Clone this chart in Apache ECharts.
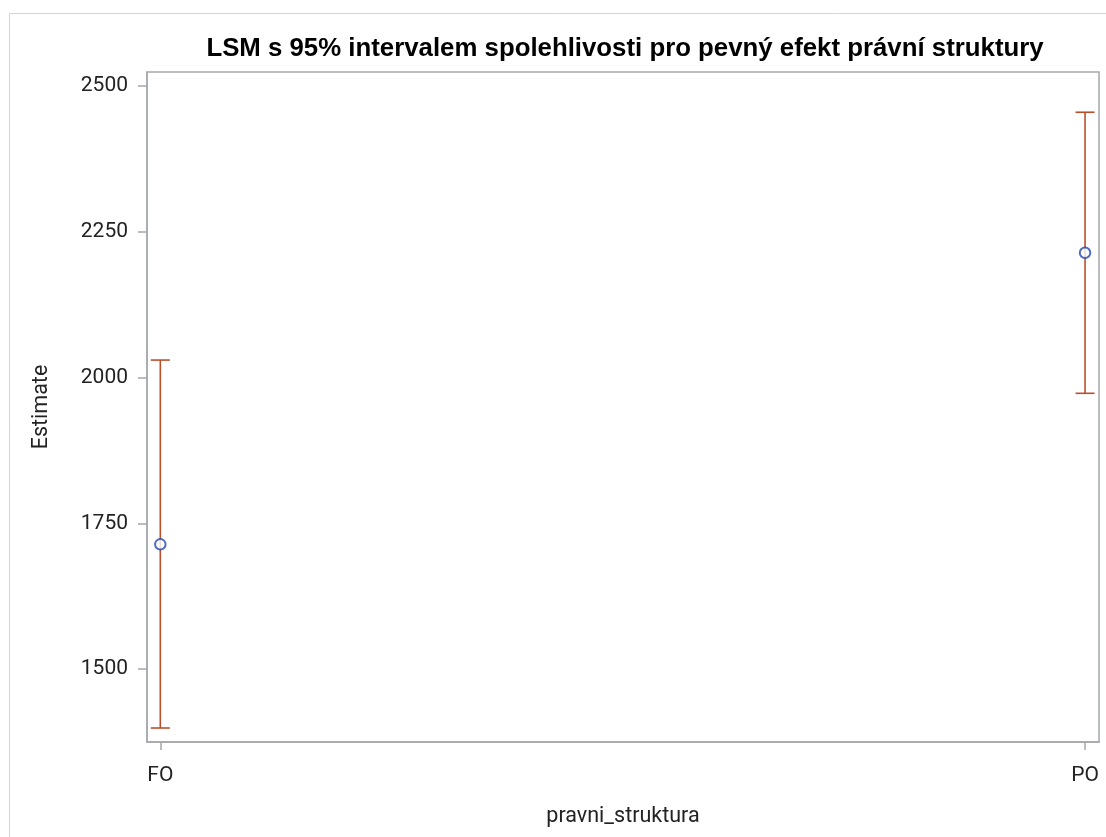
<!DOCTYPE html>
<html><head><meta charset="utf-8">
<script src="https://cdn.jsdelivr.net/npm/echarts@6/dist/echarts.min.js"></script>
<style>html,body{margin:0;padding:0;background:#fff}#c{width:1106px;height:837px}</style>
</head><body><div id="c"></div>
<script>
const categories = ['FO', 'PO'];
const estimates = [1714, 2214];
const lowerCL = [1399, 1973];
const upperCL = [2030, 2455];
const yTicks = [1500, 1750, 2000, 2250, 2500];

const chart = echarts.init(document.getElementById('c'));
const axisGray = '#a4a8ac';
const errColor = '#b9502b';
const ptColor = '#2447b0';
const lblFont = 'Roboto, "Liberation Sans", sans-serif';

chart.setOption({
  animation: false,
  backgroundColor: '#fff',
  title: {
    text: 'LSM s 95% intervalem spolehlivosti pro pevný efekt právní struktury',
    left: 620, top: 31, textAlign: 'center',
    textStyle: { fontFamily: '"Liberation Sans", Arial, sans-serif', fontWeight: 'bold', fontSize: 25.8, color: '#000' }
  },
  graphic: [{
    type: 'rect', shape: { x: 9.5, y: 13.5, width: 1110, height: 840 },
    style: { fill: 'none', stroke: '#d4d4d4', lineWidth: 1 }, silent: true, z: -10
  }],
  grid: { left: 147, top: 72, right: 7, bottom: 95, containLabel: false,
          show: true, borderColor: axisGray, borderWidth: 1.5 },
  xAxis: {
    type: 'value', min: -0.0144, max: 1.0151,
    name: 'pravni_struktura', nameLocation: 'middle', nameGap: 64,
    nameTextStyle: { fontFamily: lblFont, fontSize: 21.5, color: '#222' },
    axisLine: { show: true, onZero: false, lineStyle: { color: axisGray, width: 1.5 } },
    axisTick: { show: true, customValues: [0, 1], length: 8, lineStyle: { color: axisGray, width: 1.5 } },
    axisLabel: { customValues: [0, 1], formatter: v => categories[Math.round(v)] ?? '',
                 margin: 23, fontFamily: lblFont, fontSize: 21, color: '#222' },
    splitLine: { show: false }
  },
  yAxis: {
    type: 'value', min: 1375, max: 2524,
    name: 'Estimate', nameLocation: 'middle', nameGap: 94, nameRotate: 90,
    nameTextStyle: { fontFamily: lblFont, fontSize: 21.5, color: '#222' },
    axisLine: { show: true, onZero: false, lineStyle: { color: axisGray, width: 1.5 } },
    axisTick: { show: true, customValues: yTicks, length: 9, lineStyle: { color: axisGray, width: 1.5 } },
    axisLabel: { customValues: yTicks, formatter: v => String(v), margin: 19,
                 fontFamily: lblFont, fontSize: 21, color: '#222' },
    splitLine: { show: false }
  },
  series: [{
    type: 'custom',
    data: categories.map((c, i) => [i, lowerCL[i], upperCL[i]]),
    renderItem: (params, api) => {
      const x = api.value(0);
      const lo = api.coord([x, api.value(1)]);
      const hi = api.coord([x, api.value(2)]);
      const hw = 9.5;
      const st = { stroke: errColor, lineWidth: 1.6, fill: 'none' };
      return { type: 'group', children: [
        { type: 'line', shape: { x1: lo[0], y1: lo[1], x2: hi[0], y2: hi[1] }, style: st },
        { type: 'line', shape: { x1: lo[0] - hw, y1: lo[1], x2: lo[0] + hw, y2: lo[1] }, style: st },
        { type: 'line', shape: { x1: hi[0] - hw, y1: hi[1], x2: hi[0] + hw, y2: hi[1] }, style: st }
      ]};
    },
    z: 2
  }, {
    type: 'scatter',
    data: categories.map((c, i) => [i, estimates[i]]),
    symbol: 'circle', symbolSize: 10.5,
    itemStyle: { color: '#fff', borderColor: ptColor, borderWidth: 2 },
    z: 3
  }]
});
</script></body></html>
